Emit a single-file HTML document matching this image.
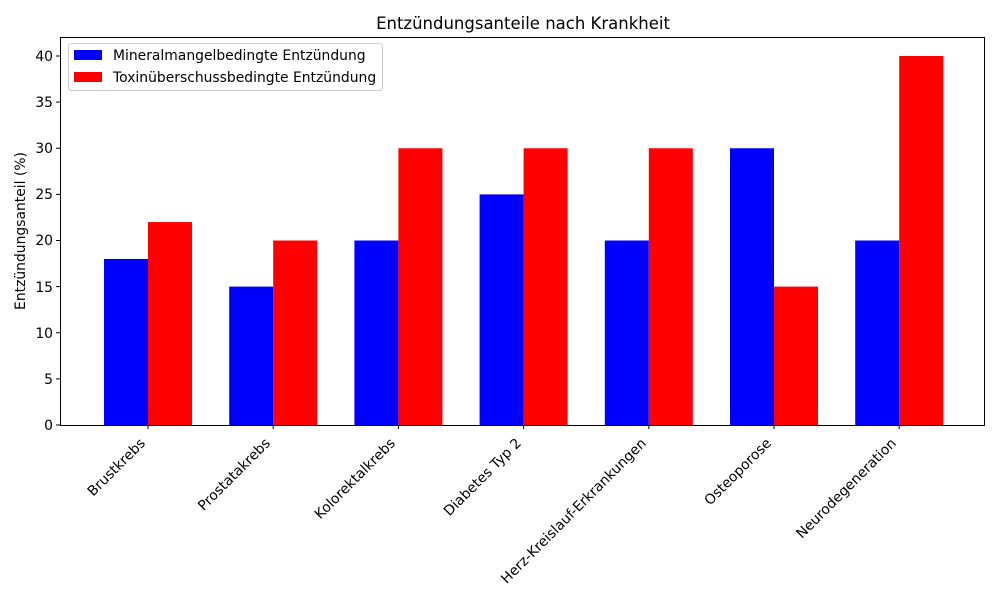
<!DOCTYPE html>
<html><head><meta charset="utf-8"><style>body{margin:0;background:#fff}svg{display:block}text{font-family:"DejaVu Sans","Liberation Sans",sans-serif;fill:#000}</style></head>
<body>
<svg width="1000" height="600" viewBox="0 0 1000 600">
<text x="523" y="29" font-size="16.5" text-anchor="middle">Entzündungsanteile nach Krankheit</text>
<g id="bars">
<rect x="104" y="258.95" width="44" height="166.05" fill="#0000ff"/><rect x="148" y="222.05" width="44" height="202.95" fill="#ff0000"/>
<rect x="229.2" y="286.6" width="44" height="138.4" fill="#0000ff"/><rect x="273.2" y="240.5" width="44" height="184.5" fill="#ff0000"/>
<rect x="354.4" y="240.5" width="44" height="184.5" fill="#0000ff"/><rect x="398.4" y="148.25" width="44" height="276.75" fill="#ff0000"/>
<rect x="479.6" y="194.4" width="44" height="230.6" fill="#0000ff"/><rect x="523.6" y="148.25" width="44" height="276.75" fill="#ff0000"/>
<rect x="604.8" y="240.5" width="44" height="184.5" fill="#0000ff"/><rect x="648.8" y="148.25" width="44" height="276.75" fill="#ff0000"/>
<rect x="730" y="148.25" width="44" height="276.75" fill="#0000ff"/><rect x="774" y="286.6" width="44" height="138.4" fill="#ff0000"/>
<rect x="855.2" y="240.5" width="44" height="184.5" fill="#0000ff"/><rect x="899.2" y="56" width="44" height="369" fill="#ff0000"/>
</g>
<rect x="60.5" y="37.5" width="924" height="388" fill="none" stroke="#000" stroke-width="1"/>
<g stroke="#000">
<line x1="56" y1="425" x2="60" y2="425"/><line x1="56" y1="378.9" x2="60" y2="378.9"/><line x1="56" y1="332.75" x2="60" y2="332.75"/><line x1="56" y1="286.6" x2="60" y2="286.6"/><line x1="56" y1="240.5" x2="60" y2="240.5"/><line x1="56" y1="194.4" x2="60" y2="194.4"/><line x1="56" y1="148.25" x2="60" y2="148.25"/><line x1="56" y1="102.1" x2="60" y2="102.1"/><line x1="56" y1="56" x2="60" y2="56"/>
</g>
<g font-size="13.9" text-anchor="end">
<text x="53" y="430">0</text><text x="53" y="384">5</text><text x="53" y="338">10</text><text x="53" y="292">15</text><text x="53" y="245">20</text><text x="53" y="199">25</text><text x="53" y="153">30</text><text x="53" y="107">35</text><text x="53" y="61">40</text>
</g>
<text transform="translate(25,231) rotate(-90)" font-size="13.9" text-anchor="middle">Entzündungsanteil (%)</text>
<g stroke="#000"><line x1="148" y1="425" x2="148" y2="429"/><line x1="273.2" y1="425" x2="273.2" y2="429"/><line x1="398.4" y1="425" x2="398.4" y2="429"/><line x1="523.6" y1="425" x2="523.6" y2="429"/><line x1="648.8" y1="425" x2="648.8" y2="429"/><line x1="774" y1="425" x2="774" y2="429"/><line x1="899.2" y1="425" x2="899.2" y2="429"/></g>
<g font-size="13.9" text-anchor="end">
<text transform="translate(146,444) rotate(-45)">Brustkrebs</text>
<text transform="translate(271,444) rotate(-45)">Prostatakrebs</text>
<text transform="translate(396,444) rotate(-45)">Kolorektalkrebs</text>
<text transform="translate(522,444) rotate(-45)">Diabetes Typ 2</text>
<text transform="translate(647,444) rotate(-45)">Herz-Kreislauf-Erkrankungen</text>
<text transform="translate(772,444) rotate(-45)">Osteoporose</text>
<text transform="translate(897,444) rotate(-45)">Neurodegeneration</text>
</g>
<rect x="68.5" y="43.5" width="314" height="47" rx="3" fill="#fff" stroke="#ccc"/>
<rect x="74" y="50" width="28" height="10" fill="#0000ff"/>
<rect x="74" y="72" width="28" height="10" fill="#ff0000"/>
<text x="113" y="60" font-size="13.9">Mineralmangelbedingte Entzündung</text>
<text x="113" y="82" font-size="13.9">Toxinüberschussbedingte Entzündung</text>
</svg>
</body></html>
